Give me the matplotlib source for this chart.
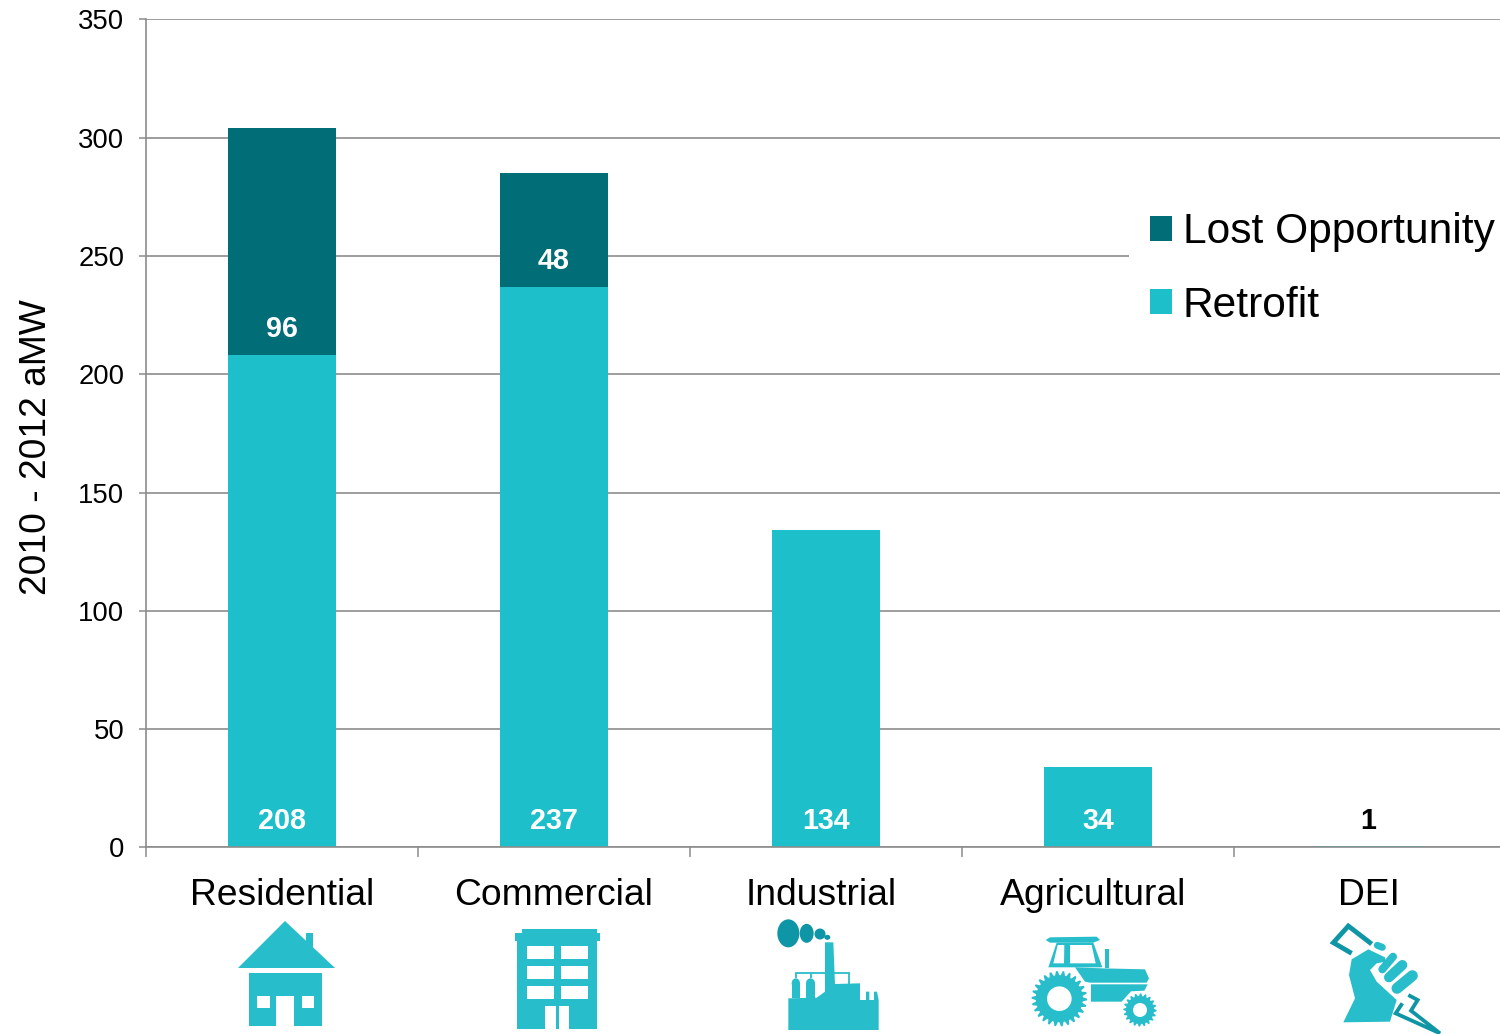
import numpy as np
import matplotlib
matplotlib.use("Agg")
import matplotlib.pyplot as plt
from matplotlib.patches import Polygon, Rectangle, Ellipse, Circle
from matplotlib.transforms import ScaledTranslation

categories = ["Residential", "Commercial", "Industrial", "Agricultural", "DEI"]
retrofit = [208, 237, 134, 34, 0.7]
lost_opportunity = [96, 48, 0, 0, 0]
y_ticks = [0, 50, 100, 150, 200, 250, 300, 350]
y_label = "2010 - 2012 aMW"

RETRO = "#1DBFCB"
LOST = "#006D77"
ICON = "#27BDCA"
ICON_DARK = "#0F96A6"
GRID = "#8C8C8C"
FONT = "Liberation Sans"

plt.rcParams["font.family"] = [FONT, "DejaVu Sans"]
W, H = 1500, 1034
fig = plt.figure(figsize=(W / 100, H / 100), dpi=100, facecolor="white")
ax = fig.add_axes([146 / W, (H - 847.4) / H, (W - 146) / W, 828 / H])
x = np.arange(len(categories))

ax.set_axisbelow(True)
ax.yaxis.grid(True, color=GRID, lw=1.2)
b1 = ax.bar(x, retrofit, width=0.4, color=RETRO, label="Retrofit", linewidth=0)
b2 = ax.bar(x, lost_opportunity, width=0.4, bottom=retrofit, color=LOST,
            label="Lost Opportunity", linewidth=0)
ax.set_xlim(-0.5, -0.5 + 1354 / 272)
ax.set_ylim(0, 350)
ax.set_yticks(y_ticks)
ax.tick_params(axis="y", length=5, width=1.1, color=GRID, pad=10.7, labelsize=19.8)

ax.set_xticks(x - 0.5, [""] * len(x))
ax.set_xticks(x, categories, minor=True)
ax.tick_params(axis="x", which="major", length=7.5, width=1.1, color=GRID)
ax.tick_params(axis="x", which="minor", length=0, pad=22.2, labelsize=26.8)
nudges = [0, 0, -5, -5, -1]
for lab, n in zip(ax.get_xticklabels(minor=True), nudges):
    lab.set_transform(lab.get_transform() + ScaledTranslation(n / 100, 0, fig.dpi_scale_trans))

for s in ["top", "right"]:
    ax.spines[s].set_visible(False)
for s in ["left", "bottom"]:
    ax.spines[s].set_color(GRID)
    ax.spines[s].set_linewidth(1.2)

ax.set_ylabel(y_label, fontsize=26.7)
ax.yaxis.set_label_coords((54 - 146) / 1354, (847 - 447) / 828)

OFF = 18.8
for i, (r, l) in enumerate(zip(retrofit, lost_opportunity)):
    ax.annotate(f"{r:.0f}", (i, 0), xytext=(-1.5 if r <= 5 else 0, OFF), textcoords="offset points",
                ha="center", va="center", fontsize=20.7, fontweight="bold",
                color="white" if r > 5 else "black")
    if l:
        ax.annotate(str(l), (i, r), xytext=(0, OFF), textcoords="offset points",
                    ha="center", va="center", fontsize=20.7, fontweight="bold", color="white")

leg = ax.legend(handles=[b2, b1], loc="upper left",
                bbox_to_anchor=(1129 / W, (H - 191) / H), bbox_transform=fig.transFigure,
                fontsize=30.6, frameon=True, framealpha=1, facecolor="white", edgecolor="none",
                fancybox=False, handlelength=0.52, handleheight=0.52, handletextpad=0.24,
                labelspacing=0.79, borderpad=0.5, borderaxespad=0)
leg.get_frame().set_linewidth(0)

# pictograms in pixel space
ov = fig.add_axes([0, 0, 1, 1], zorder=5)
ov.set_xlim(0, W)
ov.set_ylim(H, 0)
ov.axis("off")
ov.patch.set_alpha(0)


def poly(pts, c=ICON, z=2):
    ov.add_patch(Polygon(pts, closed=True, fc=c, ec="none", zorder=z))


def rect(x0, y0, x1, y1, c=ICON, z=2):
    ov.add_patch(Rectangle((x0, y0), x1 - x0, y1 - y0, fc=c, ec="none", zorder=z))


def line(pts, lw, c=ICON, cap="butt", z=2, join="miter"):
    p = np.array(pts)
    ov.plot(p[:, 0], p[:, 1], color=c, lw=lw * 0.72, solid_capstyle=cap, solid_joinstyle=join, zorder=z)


def gear(cx, cy, ro, ri, hole, n):
    a = np.linspace(0, 2 * np.pi, n * 4, endpoint=False)
    r = np.array([ro, ro, ri, ri] * n)
    poly(np.c_[cx + r * np.cos(a), cy + r * np.sin(a)], z=3)
    ov.add_patch(Circle((cx, cy), hole, fc="white", ec="none", zorder=4))


def Z(ox, oy, pts):
    return [(ox + a / 3, oy + b / 3) for a, b in pts]


# house
poly([(285, 921), (335, 968), (238, 968)])
rect(305.5, 933, 313, 955)
rect(249, 973, 322, 1026)
rect(276, 996, 294, 1026, "white", 3)
rect(257, 996, 269.5, 1008, "white", 3)
rect(302, 996, 314, 1008, "white", 3)

# office building
rect(521.5, 929, 597, 934)
rect(515, 933, 600, 941)
rect(517, 940, 597, 1029)
for wy0, wy1 in [(946, 959), (966, 979), (986, 999)]:
    rect(527, wy0, 554, wy1, "white", 3)
    rect(561, wy0, 588, wy1, "white", 3)
rect(545, 1006, 569, 1029, "white", 3)
rect(556, 1006, 559, 1029, ICON, 4)

# factory
F = lambda p: Z(770, 915, p)
for (ex, ey), ew, eh in zip(F([(55, 55), (110, 55), (150, 57), (172, 67)]), (22, 14, 11, 6), (28, 19, 11, 5)):
    ov.add_patch(Ellipse((ex, ey), ew, eh, fc=ICON_DARK, ec="none", zorder=2))
poly(F([(165, 82), (190, 82), (195, 210), (165, 240)]))
poly(F([(55, 345), (55, 250), (140, 248), (165, 230), (195, 207), (270, 205), (270, 255), (288, 255),
        (288, 230), (298, 230), (298, 255), (312, 255), (312, 230), (321, 230), (326, 255), (326, 345)]))
for x0, x1 in [(65, 90), (108, 135)]:
    rect(770 + x0 / 3, 915 + 205 / 3, 770 + x1 / 3, 915 + 250 / 3)
    ov.add_patch(Ellipse((770 + (x0 + x1) / 6, 915 + 205 / 3), (x1 - x0) / 3, 10, fc=ICON, ec="none", zorder=2))
line(F([(78, 190), (78, 175), (237, 175), (237, 207)]), 1.8)
line(F([(122, 190), (122, 175)]), 1.8)

# tractor
T = lambda p: Z(1025, 930, p)
gear(1025 + 103 / 3, 930 + 206 / 3, 27.7, 23.5, 12.3, 26)
gear(1025 + 345 / 3, 930 + 240 / 3, 16.6, 14, 7, 20)
poly(T([(62, 30), (75, 22), (215, 20), (225, 30), (205, 38), (75, 38)]))
poly(T([(95, 38), (205, 38), (232, 112), (70, 112)]))
poly(T([(98, 45), (118, 45), (117, 100), (85, 100)]), "white", 3)
poly(T([(135, 45), (200, 45), (212, 100), (135, 100)]), "white", 3)
rect(1025 + 240 / 3, 930 + 58 / 3, 1025 + 253 / 3, 930 + 115 / 3)
poly(T([(150, 112), (230, 115), (360, 118), (372, 145), (365, 158), (195, 158), (180, 155)]))
poly(T([(198, 163), (368, 163), (358, 182), (318, 184), (290, 215), (198, 215)]))

# DEI fist and bolt
D = lambda p: Z(1325, 920, p)
line(D([(140, 72), (70, 18), (25, 68), (80, 100)]), 4.8, ICON_DARK)
line(D([(250, 225), (278, 240), (258, 272), (345, 340), (212, 280), (232, 250)]), 3.8, ICON_DARK)
poly(D([(55, 307), (90, 235), (72, 165), (80, 118), (130, 88), (180, 112), (182, 125), (155, 130),
        (135, 150), (155, 185), (215, 240), (195, 305)]))
line(D([(157, 76), (172, 82)]), 7, ICON, "round", 3)
line(D([(172, 148), (204, 110)]), 8, ICON, "round", 3)
line(D([(192, 172), (232, 135)]), 10, ICON, "round", 3)
line(D([(216, 205), (262, 167)]), 11, ICON, "round", 3)

fig.savefig("out.png", dpi=100, facecolor="white")
